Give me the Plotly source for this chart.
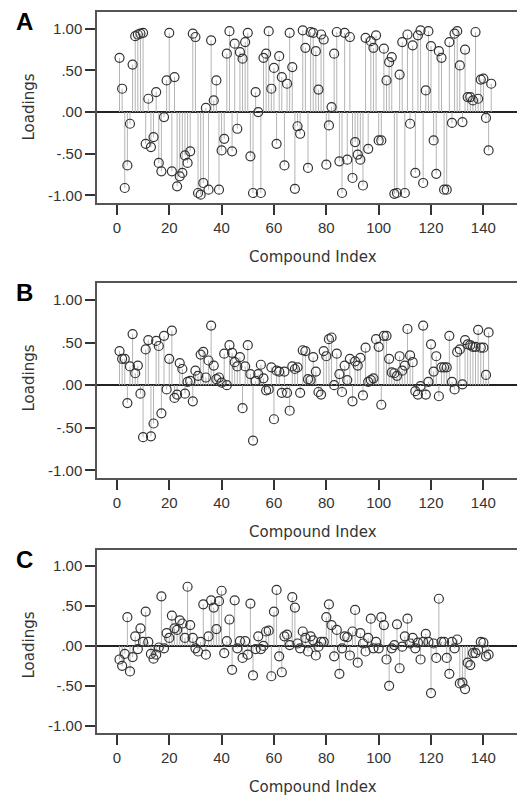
import plotly.graph_objects as go

# ---- data ----
panel_labels = ["A", "B", "C"]
y_tick_vals = [-1.0, -0.5, 0.0, 0.5, 1.0]
y_tick_text = ["-1.00", "-.50", ".00", ".50", "1.00"]
x_tick_vals = [0, 20, 40, 60, 80, 100, 120, 140]
x_title = "Compound Index"
y_title = "Loadings"

loadings_a = [0.65, 0.28, -0.91, -0.64, -0.14, 0.57, 0.91, 0.93, 0.94, 0.95,
              -0.38, 0.16, -0.42, -0.30, 0.24, -0.61, -0.71, -0.06, 0.38, 0.95,
              -0.71, 0.42, -0.89, -0.77, -0.73, -0.52, -0.61, -0.47,
              0.94, 0.90, -0.97, -0.99, -0.85, 0.05, -0.93, 0.86, 0.14, 0.38,
              -0.93, -0.46, -0.32, 0.70, 0.97, -0.47, 0.82, -0.20, 0.72, 0.64,
              0.84, 0.95, -0.53, -0.97, 0.24, 0.00, -0.97, 0.65, 0.70, 0.97,
              0.28, 0.53, -0.38, 0.67, 0.42, -0.64, 0.34, 0.95, 0.54, -0.92,
              -0.17, -0.26, 0.98, 0.77, -0.67, 0.96, 0.95, 0.73, 0.27, 0.93,
              0.87, -0.63, -0.16, 0.06, 0.70, 0.96, -0.59, -0.97, 0.95,
              -0.57, 0.90, -0.79, -0.36, -0.51, -0.57, -0.88, 0.89, -0.44, 0.85,
              0.77, 0.92, -0.34, -0.34, 0.76, 0.38, 0.60, 0.66, -0.98, -0.97,
              0.45, 0.84, -0.97, 0.93, -0.14, 0.80, -0.73, 0.92, 0.98, -0.85,
              0.26, 0.97, 0.79, -0.34, -0.74, 0.73, 0.65, -0.93, -0.93, 0.84,
              -0.13, 0.94, 0.97, 0.56, -0.12, 0.75, 0.18, 0.18, 0.14, 0.96,
              0.16, 0.39, 0.40, -0.07, -0.46, 0.34]

loadings_b = [0.40, 0.31, 0.31, -0.21, 0.22, 0.60, 0.14, 0.23, -0.10, -0.61,
              0.42, 0.53, -0.60, -0.45, 0.52, 0.46, -0.33, 0.58, -0.05, 0.31,
              0.64, -0.15, -0.11, 0.26, 0.19, -0.10, 0.04, 0.05, -0.19, 0.17,
              0.11, 0.36,
              0.39, 0.09, 0.29, 0.70, 0.23, 0.07, 0.09, 0.03, 0.37, 0.00,
              0.47, 0.38, 0.27, 0.22, 0.33, -0.27, 0.22, 0.47, 0.13, -0.65,
              0.05, 0.13, 0.24, 0.08, -0.06, -0.05, 0.21, -0.40, 0.17, 0.16,
              -0.09, 0.16, -0.09, -0.30, 0.22, 0.19, 0.21, -0.09, 0.41, 0.40,
              0.07, 0.06, 0.33, 0.16, -0.08, -0.11, 0.40, 0.34, 0.54, 0.56,
              0.00, 0.37, 0.13, -0.08, 0.23,
              0.06, 0.31, -0.19, 0.28, 0.23, 0.32, -0.12, 0.44, 0.04, 0.06,
              0.08, 0.54, 0.45, -0.23, 0.58, 0.58, 0.31, 0.15, 0.14, 0.11,
              0.34, 0.17, 0.23, 0.66, 0.35, 0.27, -0.07, -0.11, -0.01, 0.70,
              -0.11, 0.04, 0.48, 0.16, 0.34, -0.13, 0.21, 0.21, 0.21, 0.58,
              0.04, -0.05, 0.39, 0.42, 0.01, 0.53, 0.48, 0.47, 0.45, 0.45,
              0.65, 0.44, 0.44, 0.12, 0.62]

loadings_c = [-0.17, -0.25, -0.10, 0.36, -0.32, -0.14, 0.12, -0.04, 0.22, 0.05,
              0.43, 0.05, -0.10, -0.16, -0.11, -0.02, 0.62, -0.03, 0.16, 0.10,
              0.38, 0.22, 0.20, 0.32, 0.28, 0.10, 0.74, 0.26, 0.10, -0.03,
              -0.07,
              0.05, 0.52, -0.11, 0.12, 0.57, 0.48, 0.21, 0.56, 0.69, -0.09,
              0.06, 0.33, -0.30, 0.57, -0.03, 0.06, -0.15, 0.06, -0.11, 0.53,
              -0.37, -0.04, 0.12, -0.04, 0.00, 0.18, 0.19, -0.38, 0.43, 0.70,
              -0.13, -0.33, 0.12, 0.14, 0.01, 0.61, 0.48, 0.03, -0.03, 0.18,
              0.10, -0.07, 0.12, 0.07, -0.12, -0.01, 0.05, 0.05, 0.36, 0.52,
              0.26, -0.13, 0.20, -0.35, -0.03, 0.12, 0.11, -0.12,
              0.18, 0.45, -0.21, 0.16, 0.03, -0.07, 0.10, 0.34, -0.03, 0.05,
              -0.03, 0.36, 0.26, -0.17, -0.50, -0.03, 0.01, 0.27, -0.28, -0.01,
              0.12, 0.34, 0.03, 0.10, -0.03, 0.04, -0.17, 0.05, 0.15, 0.05,
              -0.59, 0.03, -0.15, 0.59, 0.05, 0.05, -0.15, -0.35, 0.05, -0.03,
              0.08, -0.47, -0.46, -0.54, -0.21, -0.24, -0.09, -0.09, -0.05, 0.05,
              0.04, -0.13, -0.11]

all_loadings = [loadings_a, loadings_b, loadings_c]

# ---- layout geometry ----
# The page body has an 8px default margin, so figure pixels = page pixels - 8.
OFF = 8
W, H = 525 - OFF, 800 - OFF
frame_left, frame_right = 97 - OFF, 525 - OFF
frames_y = [(12 - OFF, 203 - OFF), (283 - OFF, 478 - OFF), (550 - OFF, 733 - OFF)]
x_range = [-7.6, 155.9]
y_range = [-1.09, 1.20]

TICK_FONT = dict(family="Liberation Sans, Arial, sans-serif", size=15, color="#333")
TITLE_FONT = dict(family="DejaVu Sans, Verdana, sans-serif", size=15, color="#333")
FRAME = "#555"

fig = go.Figure()
annotations = []
layout = {}

for k, (vals, label, (top, bot)) in enumerate(zip(all_loadings, panel_labels, frames_y)):
    n = k + 1
    xa = "x" if n == 1 else f"x{n}"
    ya = "y" if n == 1 else f"y{n}"
    idx = list(range(1, len(vals) + 1))

    # stems
    sx, sy = [], []
    for i, v in zip(idx, vals):
        sx += [i, i, None]
        sy += [0, v, None]
    fig.add_trace(go.Scatter(x=sx, y=sy, mode="lines", xaxis=xa, yaxis=ya,
                             line=dict(color="#b4b4b4", width=1),
                             hoverinfo="skip", showlegend=False))
    # open circles
    fig.add_trace(go.Scatter(x=idx, y=vals, mode="markers", xaxis=xa, yaxis=ya,
                             marker=dict(symbol="circle", size=9,
                                         color="rgba(0,0,0,0)",
                                         line=dict(color="#333", width=1.2)),
                             showlegend=False))

    xd = [frame_left / W, min(1.0, frame_right / W)]
    yd = [1 - bot / H, 1 - top / H]
    layout[f"xaxis{'' if n == 1 else n}"] = dict(
        domain=xd, range=x_range, anchor=ya,
        tickvals=x_tick_vals, ticks="outside", ticklen=10, tickwidth=1.5,
        tickcolor="#333", showline=True, linecolor=FRAME, linewidth=1.5,
        mirror=True, showgrid=False, zeroline=False, tickfont=TICK_FONT)
    layout[f"yaxis{'' if n == 1 else n}"] = dict(
        domain=yd, range=y_range, anchor=xa,
        tickvals=y_tick_vals, ticktext=y_tick_text, ticks="outside",
        ticklen=10, tickwidth=1.5, tickcolor="#333", showline=True,
        linecolor=FRAME, linewidth=1.5, mirror=False, showgrid=False,
        zeroline=True, zerolinecolor="#222", zerolinewidth=1.5,
        tickfont=TICK_FONT)

    # panel letter
    annotations.append(dict(text=f"<b>{label}</b>", xref="paper", yref="paper",
                            x=(24 - OFF) / W, y=1 - (top + 9) / H, showarrow=False,
                            xanchor="center", yanchor="middle",
                            font=dict(family="Liberation Sans, Arial, sans-serif",
                                      size=24, color="#000")))
    # y title
    annotations.append(dict(text=y_title, xref="paper", yref="paper",
                            x=(28.5 - OFF) / W, y=1 - (top + 95) / H, textangle=-90,
                            showarrow=False, xanchor="center", yanchor="middle",
                            font=TITLE_FONT))
    # x title
    annotations.append(dict(text=x_title, xref="paper", yref="paper",
                            x=(313 - OFF) / W, y=1 - (bot + 53.5) / H, showarrow=False,
                            xanchor="center", yanchor="middle", font=TITLE_FONT))

fig.update_layout(width=W, height=H, margin=dict(l=0, r=0, t=0, b=0),
                  plot_bgcolor="white", paper_bgcolor="white",
                  annotations=annotations, **layout)

fig.write_html("out.html")
